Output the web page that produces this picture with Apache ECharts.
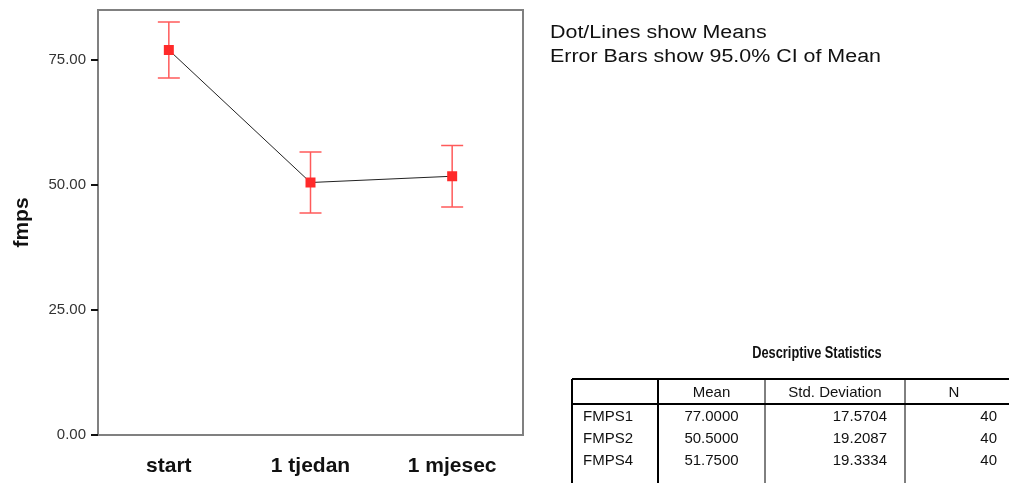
<!DOCTYPE html>
<html>
<head>
<meta charset="utf-8">
<script src="https://cdn.jsdelivr.net/npm/echarts@6/dist/echarts.min.js"></script>
<style>
  html, body { margin: 0; padding: 0; background: #fff; }
  #chart { width: 1009px; height: 483px; }
</style>
</head>
<body>
<div id="chart"></div>
<script>
// categories and values
const categories = ['start', '1 tjedan', '1 mjesec']
const means = [77.0, 50.5, 51.75]
const ciLow = [71.4, 44.4, 45.6]
const ciHigh = [82.6, 56.6, 57.9]
const yTicks = [0, 25, 50, 75]

// descriptive statistics table
const rowNames = ['FMPS1', 'FMPS2', 'FMPS4']
const sdVals = [17.5704, 19.2087, 19.3334]
const nVals = [40, 40, 40]
const headers = ['', 'Mean', 'Std. Deviation', 'N']

const chart = echarts.init(document.getElementById('chart'))

// table layout
const colX = [572, 658, 765, 905, 1015]
const tableTop = 379
const headerBottom = 404
const rowH = 22
const txtFont = '15px "Liberation Sans", Arial, sans-serif'
const noteFont = '18px "Liberation Sans", Arial, sans-serif'

function buildTable() {
  const els = []
  const bottom = 490
  // title
  els.push({
    type: 'text', x: 817, y: 354, scaleX: 0.8,
    style: {text: 'Descriptive Statistics', font: 'bold 16px "Liberation Sans", Arial, sans-serif',
      fill: '#111', align: 'center', verticalAlign: 'middle'}
  })
  // outer top line and header line
  els.push({type: 'line', shape: {x1: colX[0], y1: tableTop, x2: colX[4], y2: tableTop},
    style: {stroke: '#000', lineWidth: 2}})
  els.push({type: 'line', shape: {x1: colX[0], y1: headerBottom, x2: colX[4], y2: headerBottom},
    style: {stroke: '#000', lineWidth: 2}})
  // vertical lines
  colX.slice(0, 4).forEach((x, i) => {
    els.push({type: 'line', shape: {x1: x, y1: tableTop, x2: x, y2: bottom},
      style: {stroke: '#000', lineWidth: i < 2 ? 2 : 1}})
  })
  // header text
  headers.forEach((h, i) => {
    if (!h) return
    els.push({type: 'text', x: (colX[i] + colX[i + 1]) / 2 - (i === 3 ? 6 : 0), y: (tableTop + headerBottom) / 2 + 1,
      style: {text: h, font: txtFont, fill: '#111', align: 'center', verticalAlign: 'middle'}})
  })
  // rows
  rowNames.forEach((name, r) => {
    const y = headerBottom + 13 + rowH * r
    els.push({type: 'text', x: 583, y: y,
      style: {text: name, font: txtFont, fill: '#111', align: 'left', verticalAlign: 'middle'}})
    els.push({type: 'text', x: (colX[1] + colX[2]) / 2, y: y,
      style: {text: means[r].toFixed(4), font: txtFont, fill: '#111', align: 'center', verticalAlign: 'middle'}})
    els.push({type: 'text', x: 887, y: y,
      style: {text: sdVals[r].toFixed(4), font: txtFont, fill: '#111', align: 'right', verticalAlign: 'middle'}})
    els.push({type: 'text', x: 997, y: y,
      style: {text: String(nVals[r]), font: txtFont, fill: '#111', align: 'right', verticalAlign: 'middle'}})
  })
  // note on the right
  els.push({type: 'text', x: 550, y: 33, scaleX: 1.19,
    style: {text: 'Dot/Lines show Means', font: noteFont,
      fill: '#111', align: 'left', verticalAlign: 'middle'}})
  els.push({type: 'text', x: 550, y: 57.5, scaleX: 1.19,
    style: {text: 'Error Bars show 95.0% CI of Mean', font: noteFont,
      fill: '#111', align: 'left', verticalAlign: 'middle'}})
  return els
}

const option = {
  animation: false,
  backgroundColor: '#fff',
  grid: {
    left: 98, right: 486, top: 10, bottom: 48,
    show: true, borderColor: '#808080', borderWidth: 2, backgroundColor: '#fff'
  },
  xAxis: {
    type: 'category',
    data: categories,
    boundaryGap: true,
    axisLine: {lineStyle: {color: '#808080', width: 2}},
    axisTick: {alignWithLabel: true, length: 6, lineStyle: {color: '#111', width: 2}},
    axisLabel: {
      margin: 21, color: '#111', fontSize: 21, fontWeight: 'bold',
      fontFamily: '"Liberation Sans", Arial, sans-serif'
    },
    splitLine: {show: false}
  },
  yAxis: {
    type: 'value',
    min: 0, max: 85,
    name: 'fmps',
    nameLocation: 'middle',
    nameRotate: 90,
    nameGap: 65,
    nameTextStyle: {color: '#111', fontSize: 21, fontWeight: 'bold',
      fontFamily: '"Liberation Sans", Arial, sans-serif'},
    axisLine: {show: true, lineStyle: {color: '#808080', width: 2}},
    axisTick: {show: true, length: 7, customValues: yTicks, lineStyle: {color: '#111', width: 2}},
    axisLabel: {
      customValues: yTicks, margin: 12, color: '#333', fontSize: 15,
      fontFamily: '"Liberation Sans", Arial, sans-serif',
      formatter: v => v.toFixed(2)
    },
    splitLine: {show: false}
  },
  series: [
    {
      type: 'custom',
      name: 'ci',
      data: categories.map((c, i) => [i, ciLow[i], ciHigh[i]]),
      encode: {x: 0, y: [1, 2]},
      z: 2,
      renderItem: function (params, api) {
        const lo = api.coord([api.value(0), api.value(1)])
        const hi = api.coord([api.value(0), api.value(2)])
        const w = 11
        const st = {stroke: '#ff5a5a', lineWidth: 1.5}
        return {
          type: 'group',
          children: [
            {type: 'line', shape: {x1: lo[0], y1: lo[1], x2: hi[0], y2: hi[1]}, style: st},
            {type: 'line', shape: {x1: lo[0] - w, y1: lo[1], x2: lo[0] + w, y2: lo[1]}, style: st},
            {type: 'line', shape: {x1: hi[0] - w, y1: hi[1], x2: hi[0] + w, y2: hi[1]}, style: st}
          ]
        }
      }
    },
    {
      type: 'line',
      name: 'mean',
      data: means,
      z: 3,
      symbol: 'rect',
      symbolSize: 10,
      itemStyle: {color: '#ff2a2a'},
      lineStyle: {color: '#222', width: 1}
    }
  ],
  graphic: buildTable()
}

chart.setOption(option)
</script>
</body>
</html>
